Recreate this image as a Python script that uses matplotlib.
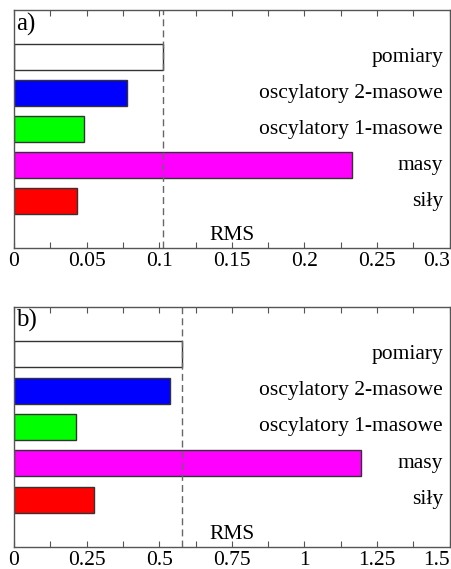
import numpy as np
import matplotlib
matplotlib.use("Agg")
import matplotlib.pyplot as plt
from matplotlib.ticker import MultipleLocator

# ======== DATA ========
labels = ["siły", "masy", "oscylatory 1-masowe", "oscylatory 2-masowe", "pomiary"]
colors = ["#ff0000", "#ff00ff", "#00ff00", "#0000ff", "#ffffff"]
rms_a = [0.0434, 0.233, 0.0484, 0.0779, 0.1027]
rms_b = [0.274, 1.196, 0.212, 0.538, 0.578]
ref_a = 0.1027   # linia przerywana = pomiary
ref_b = 0.578
panels = ["a)", "b)"]
xmax = [0.3, 1.5]
major = [0.05, 0.25]
minor = [0.025, 0.125]
ticklabels_a = ["0", "0.05", "0.1", "0.15", "0.2", "0.25", "0.3"]
ticklabels_b = ["0", "0.25", "0.5", "0.75", "1", "1.25", "1.5"]

plt.rcParams['font.family'] = ['Liberation Serif', 'DejaVu Serif']

fig = plt.figure(figsize=(4.51, 5.69), dpi=100)
ax_a = fig.add_axes([0.031, 0.564, 0.966, 0.418])
ax_b = fig.add_axes([0.031, 0.0387, 0.966, 0.4218])

y = np.arange(1, 6)

for ax, vals, ref, tag, xm, mj, mn, tl in [
        (ax_a, rms_a, ref_a, panels[0], xmax[0], major[0], minor[0], ticklabels_a),
        (ax_b, rms_b, ref_b, panels[1], xmax[1], major[1], minor[1], ticklabels_b)]:
    ax.barh(y, vals, height=0.72, color=colors, edgecolor="#333333", linewidth=1.0)
    ax.axvline(ref, color="#666666", linestyle=(0, (5, 3)), linewidth=1.0)
    for yi, lab in zip(y, labels):
        ax.text(0.985, yi, lab, transform=ax.get_yaxis_transform(),
                ha="right", va="center", fontsize=15.5)
    ax.text(xm / 2, 0.05, "RMS", ha="center", va="center", fontsize=15.5)
    ax.text(0.005, 0.99, tag, transform=ax.transAxes, ha="left", va="top", fontsize=18)
    ax.set_xlim(0, xm)
    ax.set_ylim(-0.3, 6.3)
    ax.xaxis.set_major_locator(MultipleLocator(mj))
    ax.xaxis.set_minor_locator(MultipleLocator(mn))
    ax.set_xticks(np.arange(0, xm + mj / 2, mj))
    ax.set_xticklabels(tl)
    ax.get_xticklabels()[-1].set_ha("right")   # ostatnia etykieta przy krawędzi
    ax.set_yticks([])
    ax.tick_params(axis="x", which="both", direction="in", top=True, length=4,
                   width=0.8, color="#555555", labelsize=15.5, pad=3)
    for sp in ax.spines.values():
        sp.set_color("#555555")
        sp.set_linewidth(1.0)

fig.savefig("out.png", dpi=100)
